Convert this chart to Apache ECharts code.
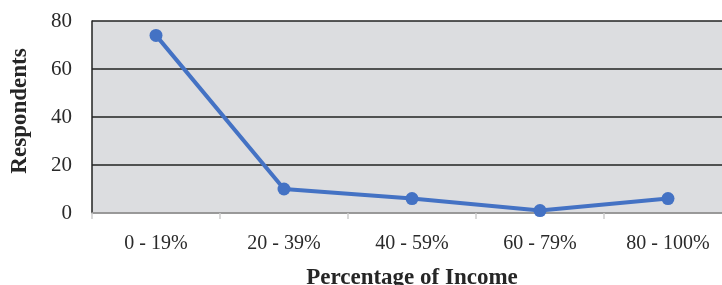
<!DOCTYPE html>
<html>
<head>
<meta charset="utf-8">
<script src="https://cdn.jsdelivr.net/npm/echarts@6/dist/echarts.min.js"></script>
<style>
  html, body { margin: 0; padding: 0; background: #fff; }
  #chart { width: 722px; height: 285px; }
</style>
</head>
<body>
<div id="chart"></div>
<script>
// income bands and how many people answered each
const categories = ['0 - 19%', '20 - 39%', '40 - 59%', '60 - 79%', '80 - 100%'];
const respondents = [74, 10, 6, 1, 6];
const yTicks = [0, 20, 40, 60, 80];

const FONT = '"Liberation Serif", "DejaVu Serif", serif';

const chart = echarts.init(document.getElementById('chart'));

chart.setOption({
  animation: false,
  grid: {
    left: 92,
    right: -10,
    top: 21,
    bottom: 72,
    outerBoundsMode: 'none',
    containLabel: false,
    show: true,
    backgroundColor: '#dcdde0',
    borderWidth: 0
  },
  xAxis: {
    type: 'category',
    data: categories,
    boundaryGap: true,
    name: 'Percentage of Income',
    nameLocation: 'middle',
    nameGap: 54,
    nameTextStyle: { fontFamily: FONT, fontSize: 23, fontWeight: 'bold', color: '#262626' },
    axisLine: { show: true, lineStyle: { color: '#b0b0b0', width: 1.5 } },
    axisTick: { show: true, length: 6, lineStyle: { color: '#cdcdcd', width: 1.5 } },
    axisLabel: { fontFamily: FONT, fontSize: 20, color: '#2a2a2a', margin: 21 }
  },
  yAxis: {
    type: 'value',
    min: yTicks[0],
    max: yTicks[yTicks.length - 1],
    interval: 20,
    name: 'Respondents',
    nameLocation: 'middle',
    nameGap: 60,
    nameTextStyle: { fontFamily: FONT, fontSize: 23, fontWeight: 'bold', color: '#262626', padding: [0, 0, 0, 12] },
    axisLine: { show: true, lineStyle: { color: '#222', width: 1.5 } },
    axisTick: { show: false },
    axisLabel: { fontFamily: FONT, fontSize: 21, color: '#2a2a2a', margin: 20 },
    splitLine: { show: true, lineStyle: { color: '#222', width: 1.5 } }
  },
  series: [{
    type: 'line',
    data: respondents,
    symbol: 'circle',
    symbolSize: 13,
    lineStyle: { color: '#4472c4', width: 4 },
    itemStyle: { color: '#4472c4' }
  }]
});
</script>
</body>
</html>
